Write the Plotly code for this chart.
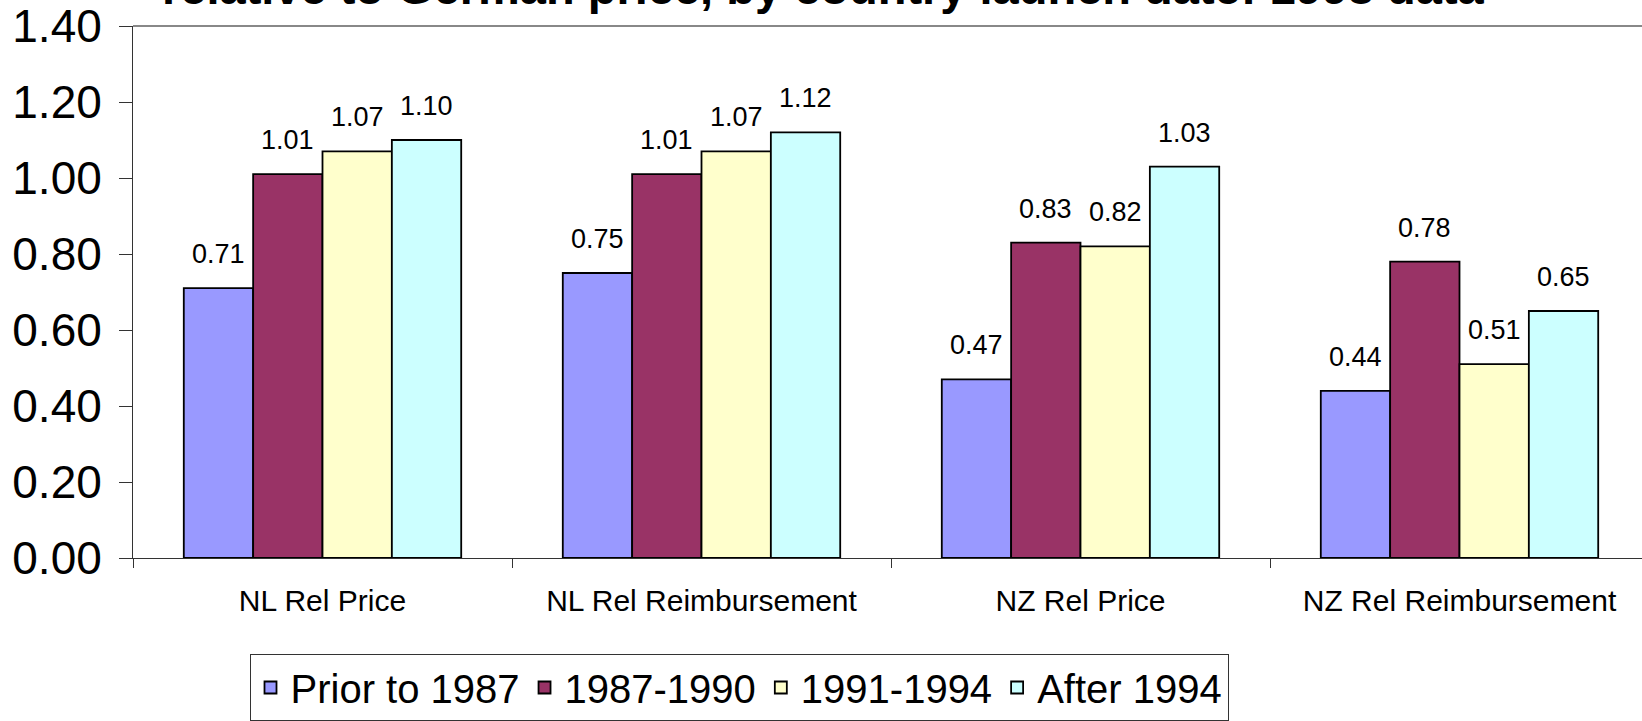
import plotly.graph_objects as go

categories = ["NL Rel Price", "NL Rel Reimbursement", "NZ Rel Price", "NZ Rel Reimbursement"]
series_names = ["Prior to 1987", "1987-1990", "1991-1994", "After 1994"]
prior_1987 = [0.71, 0.75, 0.47, 0.44]
y1987_1990 = [1.01, 1.01, 0.83, 0.78]
y1991_1994 = [1.07, 1.07, 0.82, 0.51]
after_1994 = [1.10, 1.12, 1.03, 0.65]
series_values = [prior_1987, y1987_1990, y1991_1994, after_1994]
colors = ["#9999FF", "#993366", "#FFFFCC", "#CCFFFF"]
title_text = "relative to German price, by country launch date: 1998 data"
y_ticks = [0, 0.2, 0.4, 0.6, 0.8, 1.0, 1.2, 1.4]

FONT = "Liberation Sans, Arial, sans-serif"
W, H = 1642, 721
ML, MR, MT, MB = 133, 0, 26, 159
BARGAP = 0.268
cat_px = 379.0
plot_w = W - ML - MR
axis_y = H - MB
plot_h = axis_y - MT
x_end = -0.5 + plot_w / cat_px

fig = go.Figure()
for name, vals, col in zip(series_names, series_values, colors):
    fig.add_trace(go.Bar(
        x=categories, y=vals, name=name,
        marker=dict(color=col, line=dict(color="black", width=1.8)),
        hoverinfo="x+y",
    ))

# data labels
n = len(series_names)
bw = (1 - BARGAP) / n
annotations = []
for j, vals in enumerate(series_values):
    off = (j - (n - 1) / 2) * bw
    for i, v in enumerate(vals):
        annotations.append(dict(
            x=i + off, y=v, xref="x", yref="y", text=f"{v:.2f}",
            showarrow=False, yanchor="middle", xanchor="center", yshift=34,
            font=dict(family=FONT, size=27, color="black"),
        ))

annotations.append(dict(
    x=(823 - ML) / plot_w, y=1 + 10 / plot_h, xref="paper", yref="paper",
    text="<b>" + title_text + "</b>", showarrow=False,
    xanchor="center", yanchor="bottom",
    font=dict(family=FONT, size=47, color="black"),
))

fig.update_layout(
    width=W, height=H,
    margin=dict(l=ML, r=MR, t=MT, b=MB, pad=0),
    paper_bgcolor="white", plot_bgcolor="white",
    barmode="group", bargap=BARGAP, bargroupgap=0,
    font=dict(family=FONT, color="black"),
    showlegend=True,
    legend=dict(
        orientation="h", x=(739 - ML) / plot_w, xanchor="center",
        y=(axis_y - 659) / plot_h, yanchor="top",
        font=dict(family=FONT, size=40, color="black"),
        bordercolor="#333333", borderwidth=1, bgcolor="white",
        itemwidth=30, tracegroupgap=0,
    ),
    annotations=annotations,
    shapes=[dict(type="line", xref="paper", yref="paper", x0=0, x1=1, y0=1, y1=1,
                 line=dict(color="#888888", width=2))],
    xaxis=dict(
        type="category", range=[-0.5, x_end],
        showline=True, linecolor="#333333", linewidth=1,
        ticks="outside", tickson="boundaries", ticklen=9, tickcolor="#333333",
        tickfont=dict(family=FONT, size=30, color="black"),
        ticklabelstandoff=16, showgrid=False, zeroline=False,
    ),
    yaxis=dict(
        range=[0, 1.4], tickvals=y_ticks, tickformat=".2f",
        showline=True, linecolor="#333333", linewidth=1,
        ticks="outside", ticklen=13, tickcolor="#333333",
        tickfont=dict(family=FONT, size=46, color="black"),
        ticklabelstandoff=8, showgrid=False, zeroline=False,
    ),
)

fig.write_html(
    "out.html",
    config={"displayModeBar": False},
    post_script="document.body.style.margin='0';document.body.style.overflow='hidden';",
)
